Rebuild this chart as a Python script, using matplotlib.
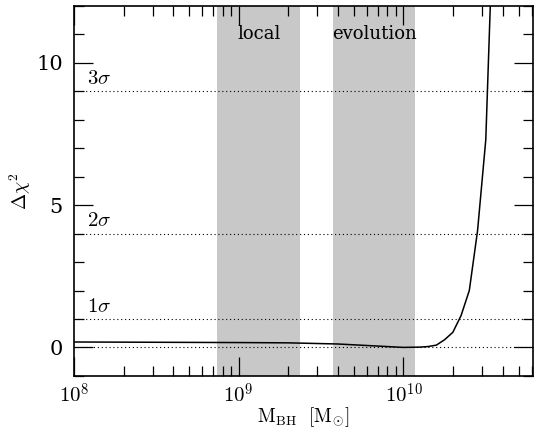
import numpy as np
import matplotlib
matplotlib.use("Agg")
import matplotlib.pyplot as plt
from matplotlib.ticker import LogLocator, MultipleLocator, FixedLocator, FixedFormatter, NullFormatter

plt.rcParams['font.family'] = ['DejaVu Serif']
plt.rcParams['mathtext.fontset'] = 'cm'

# data (log10 M_BH, delta chi^2)
log_mbh = [8.0, 8.5, 9.0, 9.3, 9.6, 9.8, 10.0, 10.1, 10.15, 10.2, 10.25, 10.3, 10.35, 10.4, 10.45, 10.5, 10.55]
dchi2 = [0.19, 0.18, 0.17, 0.16, 0.12, 0.06, 0.0, 0.01, 0.03, 0.08, 0.27, 0.53, 1.12, 2.0, 4.1, 7.3, 15.9]

band_local = (7.43e8, 2.37e9)
band_evol = (3.73e9, 1.18e10)
sigma_levels = [1, 4, 9]
sigma_labels = [r'$1\sigma$', r'$2\sigma$', r'$3\sigma$']

fig = plt.figure(figsize=(5.36, 4.32), dpi=100)
ax = fig.add_axes([0.138, 0.130, 0.856, 0.856])

ax.axvspan(*band_local, color='#c8c8c8', lw=0, zorder=0)
ax.axvspan(*band_evol, color='#c8c8c8', lw=0, zorder=0)

for lev in [0] + sigma_levels:
    ax.axhline(lev, color='black', ls=(0, (1, 2.5)), lw=0.8, zorder=1)

x = 10 ** np.array(log_mbh)
ax.plot(x, dchi2, color='black', lw=1.1, zorder=3)

ax.set_xscale('log')
ax.set_xlim(1e8, 6.1e10)
ax.set_ylim(-1, 12)

for lev, lab in zip(sigma_levels, sigma_labels):
    ax.text(1.2e8, lev + 0.12, lab, fontsize=15, ha='left', va='bottom')

ax.text(np.sqrt(band_local[0] * band_local[1]), 11.0, 'local', fontsize=13, ha='center', va='center')
ax.text(np.sqrt(band_evol[0] * band_evol[1]), 11.0, 'evolution', fontsize=13, ha='center', va='center')

ax.xaxis.set_major_locator(FixedLocator([1e8, 1e9, 1e10]))
ax.xaxis.set_major_formatter(FixedFormatter([r'$10^8$', r'$10^9$', r'$10^{10}$']))
ax.xaxis.set_minor_locator(LogLocator(base=10, subs=np.arange(2, 10)))
ax.xaxis.set_minor_formatter(NullFormatter())
ax.yaxis.set_major_locator(MultipleLocator(5))
ax.yaxis.set_minor_locator(MultipleLocator(1))

ax.tick_params(which='both', direction='in', top=True, right=True, labelsize=15, width=0.9)
ax.tick_params(which='major', length=14, pad=8)
ax.tick_params(axis='x', which='major', pad=5)
ax.tick_params(which='minor', length=7)
for s in ax.spines.values():
    s.set_linewidth(1.2)

ax.set_xlabel(r'$\mathrm{M_{BH}}\ \ [\mathrm{M}_{\odot}]$', fontsize=14, labelpad=-1)
ax.set_ylabel(r'$\Delta\chi^2$', fontsize=14, labelpad=2)

fig.savefig('out.png', dpi=100)
